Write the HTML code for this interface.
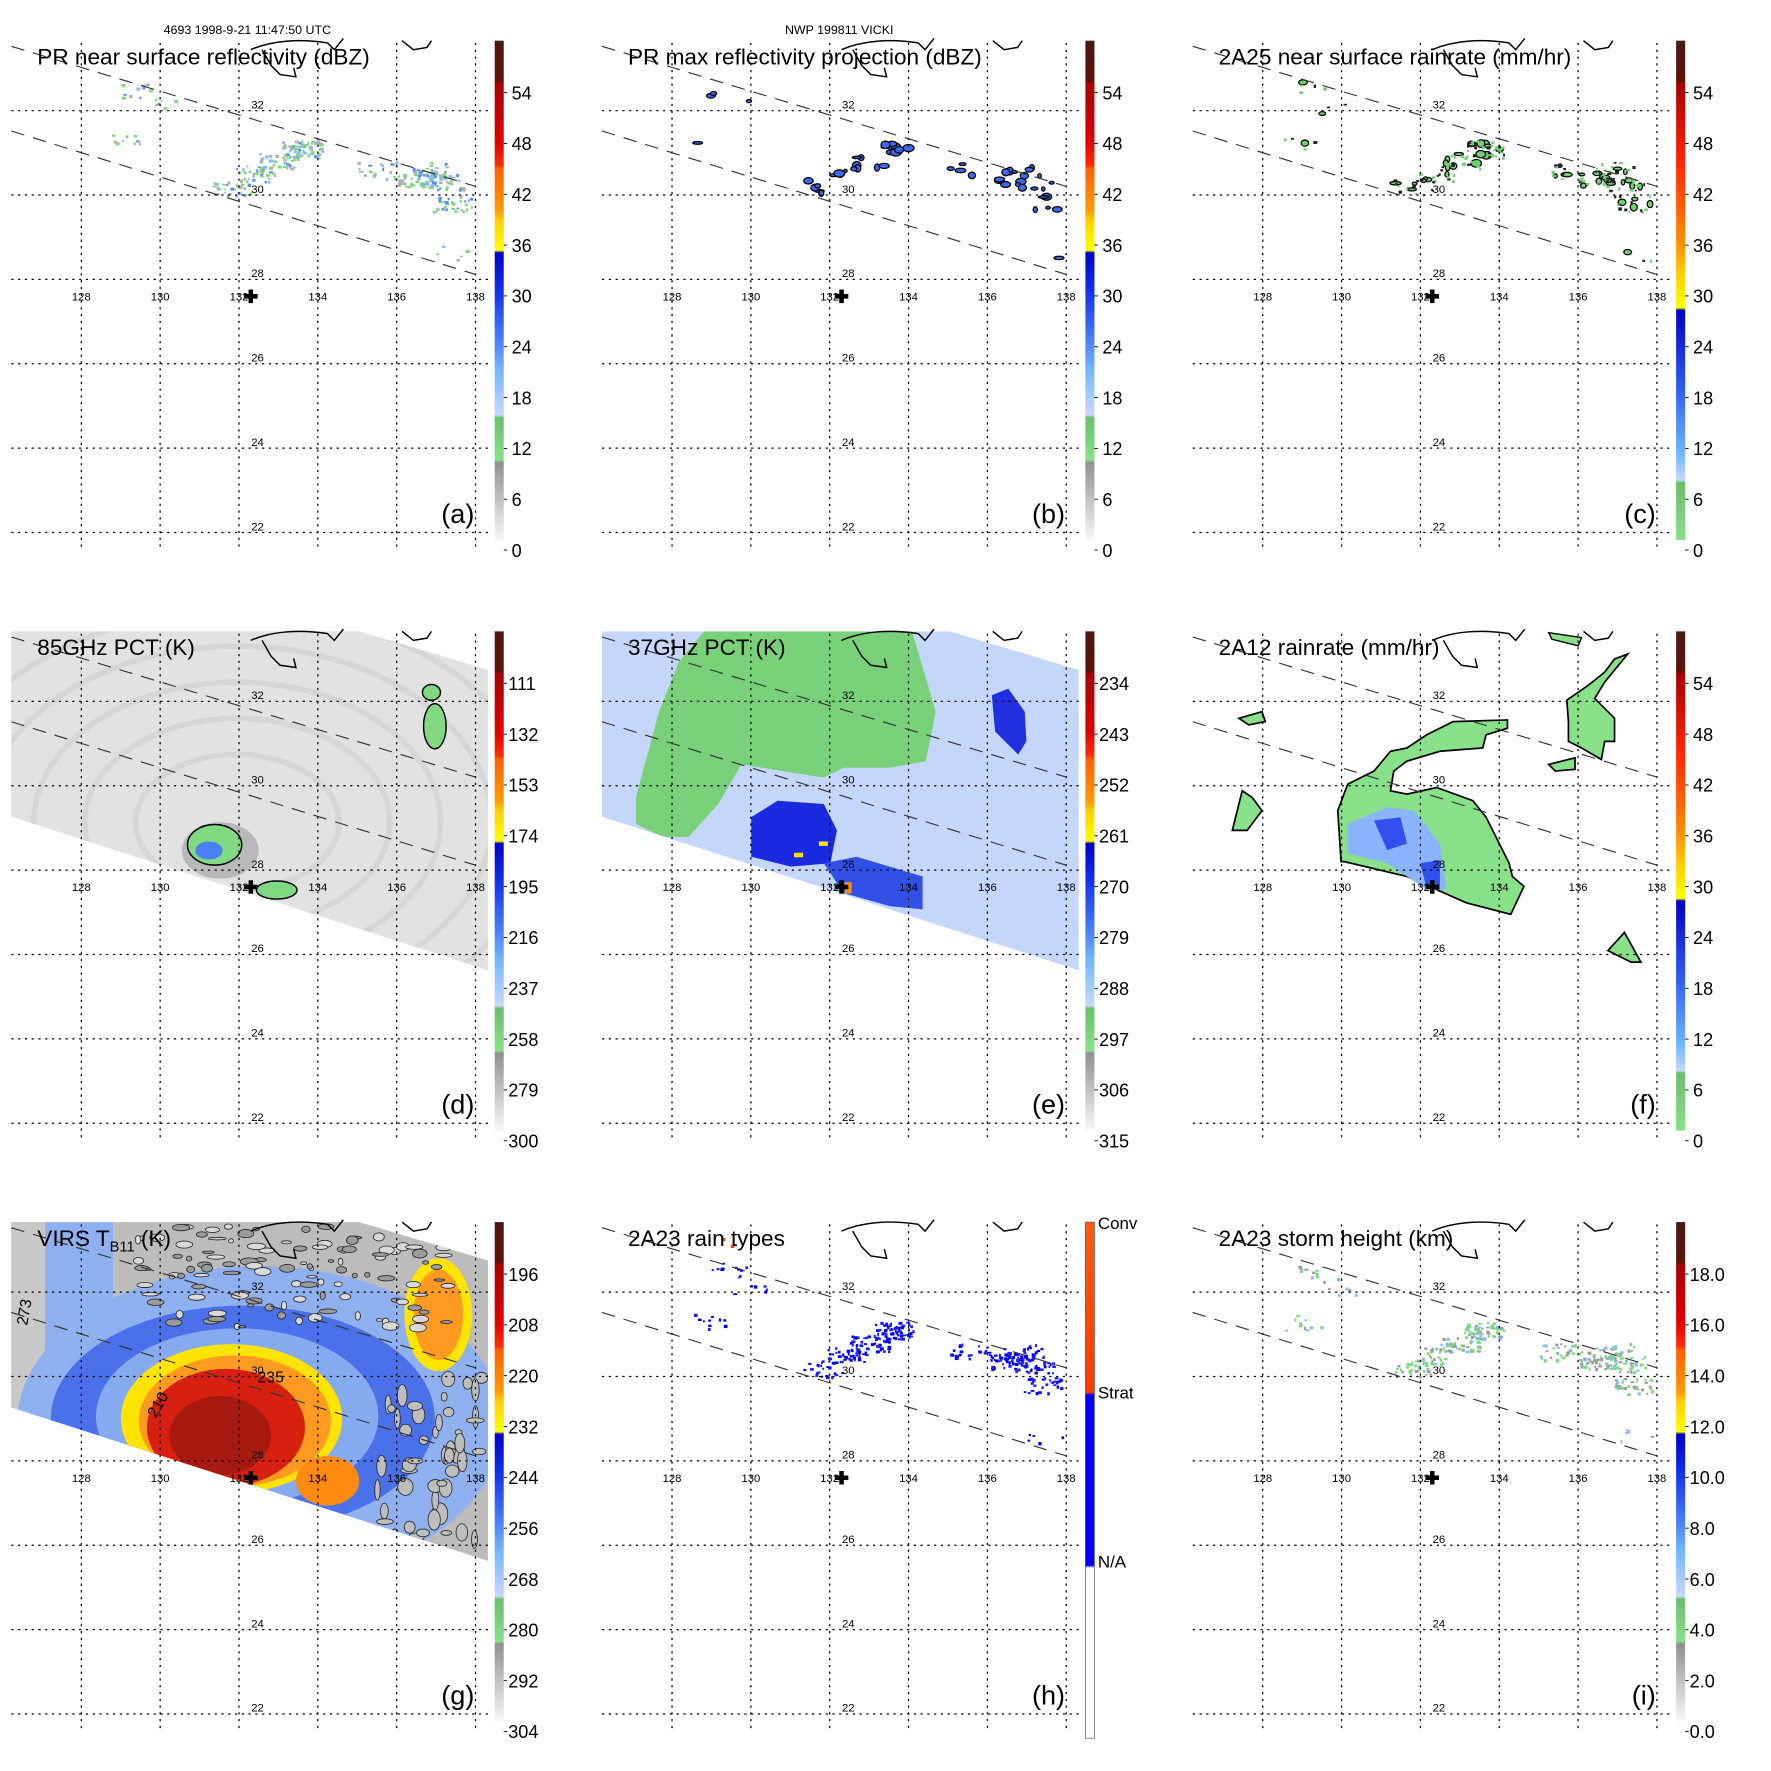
<!DOCTYPE html>
<html><head><meta charset="utf-8">
<style>
html,body{margin:0;padding:0;background:#fff;}
svg{display:block;font-family:"Liberation Sans",sans-serif;}
</style></head>
<body>
<svg id="fig" xmlns="http://www.w3.org/2000/svg" width="1771" height="1771" viewBox="0 0 1568 1568">
<defs>
<linearGradient id="gA" x1="0" y1="0" x2="0" y2="1">
<stop offset="0" stop-color="#4a1812"/><stop offset=".08" stop-color="#5e1208"/><stop offset=".085" stop-color="#a80000"/><stop offset=".2" stop-color="#e00000"/><stop offset=".25" stop-color="#ff3000"/><stop offset=".255" stop-color="#ff6000"/><stop offset=".34" stop-color="#ff9a00"/><stop offset=".36" stop-color="#ffd000"/><stop offset=".42" stop-color="#ffff00"/><stop offset=".425" stop-color="#0000c8"/><stop offset=".5" stop-color="#1030f0"/><stop offset=".6" stop-color="#4a80f8"/><stop offset=".66" stop-color="#70b8ff"/><stop offset=".75" stop-color="#c8d8ff"/><stop offset=".755" stop-color="#6abf69"/><stop offset=".84" stop-color="#88e088"/><stop offset=".845" stop-color="#909090"/><stop offset="1" stop-color="#f8f8f8"/>
</linearGradient>
<linearGradient id="gC" x1="0" y1="0" x2="0" y2="1">
<stop offset="0" stop-color="#4a1812"/><stop offset=".08" stop-color="#5e1208"/><stop offset=".085" stop-color="#a80000"/><stop offset=".25" stop-color="#ff2a00"/><stop offset=".4" stop-color="#ff8a00"/><stop offset=".47" stop-color="#ffd000"/><stop offset=".535" stop-color="#ffff00"/><stop offset=".54" stop-color="#0000c8"/><stop offset=".7" stop-color="#3060f0"/><stop offset=".83" stop-color="#70b8ff"/><stop offset=".88" stop-color="#c8d8ff"/><stop offset=".885" stop-color="#6abf69"/><stop offset="1" stop-color="#88e088"/>
</linearGradient>
<linearGradient id="gH" x1="0" y1="0" x2="0" y2="1">
<stop offset="0" stop-color="#ff5a10"/><stop offset=".33" stop-color="#ff3a00"/><stop offset=".335" stop-color="#0000ff"/><stop offset=".665" stop-color="#0000ff"/><stop offset=".67" stop-color="#ffffff"/><stop offset="1" stop-color="#ffffff"/>
</linearGradient>
</defs>
<text x="219" y="30" font-size="11" text-anchor="middle">4693 1998-9-21 11:47:50 UTC</text>
<text x="743" y="30" font-size="11" text-anchor="middle">NWP 199811 VICKI</text>
</svg>
<script>
const NS="http://www.w3.org/2000/svg";
const svg=document.getElementById('fig');
// ---- data ----
const lonTicks=[128,130,132,134,136,138];
const latTicks=[32,30,28,26,24,22];
const panelTitles=["PR near surface reflectivity (dBZ)","PR max reflectivity projection (dBZ)","2A25 near surface rainrate (mm/hr)","85GHz PCT (K)","37GHz PCT (K)","2A12 rainrate (mm/hr)","VIRS","2A23 rain types","2A23 storm height (km)"];
const panelLetters=["(a)","(b)","(c)","(d)","(e)","(f)","(g)","(h)","(i)"];
const cbLabelsA=["54","48","42","36","30","24","18","12","6","0"];
const cbLabelsC=["54","48","42","36","30","24","18","12","6","0"];
const cbLabelsD=["111","132","153","174","195","216","237","258","279","300"];
const cbLabelsE=["234","243","252","261","270","279","288","297","306","315"];
const cbLabelsG=["196","208","220","232","244","256","268","280","292","304"];
const cbLabelsH=["Conv","Strat","N/A"];
const cbLabelsI=["18.0","16.0","14.0","12.0","10.0","8.0","6.0","4.0","2.0","0.0"];
const stormCenter=[132.3,27.6];
// rain clusters: lon, lat, count
const clusterLon=[133.6,133.0,132.4,131.8,136.5,137.2,135.5,137.4,129.0,129.4,129.9,137.5,136.9];
const clusterLat=[31.1,30.8,30.5,30.2,30.4,30.3,30.6,29.8,31.3,32.5,32.1,28.6,30.6];
const clusterSize=[80,50,40,40,70,40,30,40,12,14,8,6,30];
// ---- helpers ----
const PX=[0,523,1046],PY=[0,523,1046];
function lx(lon){return 72+(lon-128)*34.9;}
function ly(lat){return 98-(lat-32)*37.35;}
let seed=7;function rnd(){seed=(seed*16807)%2147483647;return seed/2147483647;}
function el(tag,at,parent){const e=document.createElementNS(NS,tag);for(const k in at)e.setAttribute(k,at[k]);(parent||svg).appendChild(e);return e;}
function poly(g,pts,fill,stroke,sw){return el('polygon',{points:pts.map(p=>p.join(',')).join(' '),fill:fill,stroke:stroke||'none','stroke-width':sw||1},g);}
function zp(ox,oy,pts,pdx,pdy){return pts.map(p=>[(ox+p[0]/3)/1.1426-pdx,(oy+p[1]/3)/1.1426-pdy]);}
const swath=[[10,36],[318,36],[432,70],[432,336],[10,200]];

function speckles(g,colors,scale){
  for(let c=0;c<clusterLon.length;c++){
    const n=Math.round(clusterSize[c]*scale);
    for(let i=0;i<n;i++){
      const x=lx(clusterLon[c]+(rnd()-.5)*1.0), y=ly(clusterLat[c]+(rnd()-.5)*0.4);
      const r=el('rect',{x:x.toFixed(1),y:y.toFixed(1),width:1.5+rnd()*2,height:1.5+rnd()*1.5,fill:colors[Math.floor(rnd()*colors.length)]},g);
      
      
    }
  }
}
function blobs(g,fill,scale){
  for(let c=0;c<clusterLon.length;c++){
    const n=Math.max(1,Math.round(clusterSize[c]*scale));
    for(let i=0;i<n;i++){
      const x=lx(clusterLon[c]+(rnd()-.5)*0.9), y=ly(clusterLat[c]+(rnd()-.5)*0.35);
      const b=el('ellipse',{cx:x.toFixed(1),cy:y.toFixed(1),rx:1.5+rnd()*3.5,ry:1+rnd()*2.5,fill:fill,stroke:'#000','stroke-width':1.1},g);
      
      
    }
  }
}

function background(i,g){
  if(i===3){
    const s=poly(g,swath,'#e2e2e2');
    const cp=el('g',{'clip-path':'url(#sw)'},g);
    for(let k=0;k<5;k++)el('ellipse',{cx:210,cy:205,rx:90+k*45,ry:60+k*32,fill:'none',stroke:'#d6d6d6','stroke-width':5},cp);
    el('ellipse',{cx:195,cy:230,rx:34,ry:25,fill:'#b8b8b8'},cp);
    el('ellipse',{cx:190,cy:225,rx:24,ry:18,fill:'#80d880',stroke:'#000','stroke-width':1.3},cp);
    el('ellipse',{cx:185,cy:230,rx:12,ry:8,fill:'#4a80f8'},cp);
    el('ellipse',{cx:245,cy:265,rx:18,ry:8,fill:'#80d880',stroke:'#000','stroke-width':1.3},cp);
    el('ellipse',{cx:385,cy:120,rx:10,ry:20,fill:'#80d880',stroke:'#000','stroke-width':1.3},cp);
    el('ellipse',{cx:382,cy:90,rx:8,ry:7,fill:'#80d880',stroke:'#000','stroke-width':1.3},cp);
  }
  if(i===4){
    const s=poly(g,swath,'#c4d6fa');
    const cp=el('g',{'clip-path':'url(#sw)'},g);
    poly(cp,zp(600,620,[[130,560],[200,300],[260,150],[350,40],[700,30],[960,30],[1040,300],[1010,450],[900,470],[760,470],[700,500],[450,460],[380,580],[290,680],[210,680],[130,640]],523,523),'#78d078');
    poly(cp,zp(600,620,[[480,620],[560,570],[700,580],[740,660],[720,760],[600,770],[480,740]],523,523),'#1a2ae0');
    poly(cp,zp(600,620,[[700,760],[800,740],[1000,800],[1000,900],[900,890],[760,850]],523,523),'#3050e8');
    poly(cp,zp(600,620,[[1210,250],[1260,230],[1310,300],[1315,390],[1290,430],[1220,360]],523,523),'#2030e0');
    el('rect',{x:202,y:222,width:8,height:4,fill:'#ffe000'},cp);el('rect',{x:180,y:232,width:8,height:4,fill:'#ffe000'},cp);
    el('rect',{x:225,y:258,width:6,height:10,fill:'#ff8a00'},cp);
  }
  if(i===6){
    const s=poly(g,swath,'#bcbcbc');
    const cp=el('g',{'clip-path':'url(#sw)'},g);
    el('rect',{x:10,y:36,width:90,height:170,fill:'#8fb0ee'},cp);
    el('rect',{x:10,y:36,width:30,height:170,fill:'#c8c8c8'},cp);
    el('ellipse',{cx:230,cy:215,rx:215,ry:140,fill:'#8fb0ee'},cp);
    el('ellipse',{cx:215,cy:210,rx:170,ry:100,fill:'#4a70ea'},cp);
    el('ellipse',{cx:210,cy:208,rx:125,ry:78,fill:'#86aaf0'},cp);
    el('ellipse',{cx:205,cy:210,rx:98,ry:66,fill:'#ffe400'},cp);
    el('ellipse',{cx:208,cy:212,rx:85,ry:58,fill:'#ff9a20'},cp);
    el('ellipse',{cx:200,cy:218,rx:70,ry:52,fill:'#d82010'},cp);
    el('ellipse',{cx:195,cy:225,rx:45,ry:35,fill:'#a81a10'},cp);
    el('ellipse',{cx:290,cy:265,rx:28,ry:22,fill:'#ff8a10'},cp);
    el('ellipse',{cx:388,cy:118,rx:30,ry:50,fill:'#ffe400'},cp);
    el('ellipse',{cx:388,cy:118,rx:22,ry:40,fill:'#ff9a20'},cp);
    for(let k=0;k<120;k++){const x=120+rnd()*280,y=40+rnd()*90;el('ellipse',{cx:x,cy:y,rx:2+rnd()*6,ry:1+rnd()*3,fill:rnd()<.5?'#d8d8d8':'#9a9a9a',stroke:'#222','stroke-width':.7},cp);}
    for(let k=0;k<50;k++){const x=330+rnd()*100,y=170+rnd()*150;el('ellipse',{cx:x,cy:y,rx:2+rnd()*6,ry:2+rnd()*8,fill:'#bdbdbd',stroke:'#222','stroke-width':.7},cp);}
    el('text',{x:138,y:210,'font-size':14,fill:'#000',transform:'rotate(-60 138 210)'},cp).textContent='210';
    el('text',{x:228,y:178,'font-size':14,fill:'#000'},cp).textContent='235';
    el('text',{x:24,y:128,'font-size':14,fill:'#000',transform:'rotate(-80 24 128)'},cp).textContent='273';
  }
  if(i===5){
    const o=[1190,620],d=[1046,523];
    const main=poly(g,zp(o[0],o[1],[[500,755],[490,600],[520,520],[600,480],[650,420],[700,410],[760,370],[840,330],[1005,325],[1005,350],[940,370],[930,410],[800,420],[700,450],[660,480],[650,540],[700,550],[790,530],[900,570],[940,620],[970,680],[1010,760],[1020,800],[1055,830],[1015,915],[880,880],[700,800],[510,755]],d[0],d[1]),'#88e088','#000',1.5);
    
    poly(g,zp(o[0],o[1],[[1185,265],[1250,220],[1300,180],[1330,140],[1370,125],[1300,210],[1270,260],[1330,320],[1330,390],[1300,390],[1290,445],[1230,410],[1190,390],[1190,330]],d[0],d[1]),'#88e088','#000',1.5);
    poly(g,zp(o[0],o[1],[[1130,460],[1210,440],[1210,475],[1150,480]],d[0],d[1]),'#88e088','#000',1.5);
    poly(g,zp(o[0],o[1],[[170,660],[200,540],[230,560],[260,600],[215,660]],d[0],d[1]),'#88e088','#000',1.5);
    poly(g,zp(o[0],o[1],[[1310,1025],[1360,970],[1410,1060],[1380,1060]],d[0],d[1]),'#88e088','#000',1.5);
    poly(g,zp(o[0],o[1],[[190,320],[260,300],[270,330],[220,340]],d[0],d[1]),'#88e088','#000',1.5);
    poly(g,zp(o[0],o[1],[[1130,60],[1230,75],[1220,100],[1140,80]],d[0],d[1]),'#88e088','#000',1.2);
    poly(g,zp(o[0],o[1],[[520,640],[640,590],[720,600],[800,700],[820,840],[760,840],[640,760],[520,730]],d[0],d[1]),'#8ab4ff');
    poly(g,zp(o[0],o[1],[[600,630],[680,620],[700,700],[640,720]],d[0],d[1]),'#3050f0');
    poly(g,zp(o[0],o[1],[[740,760],[800,750],[800,840],[760,835]],d[0],d[1]),'#3050f0');
  }
}

const cpath=el('clipPath',{id:'sw'},svg.querySelector('defs'));poly(cpath,swath,'#000');

for(let i=0;i<9;i++){
  const col=i%3,row=Math.floor(i/3);
  const g=el('g',{transform:`translate(${PX[col]},${PY[row]})`});
  
  
  background(i,g);
  if(i===0)speckles(g,['#7ad67a','#7ad67a','#8ab8ff','#5a8cf8','#b0b0b0'],0.8);
  if(i===1)blobs(g,'#3a6af0',0.12);
  if(i===2){blobs(g,'#70d070',0.1);speckles(g,['#222','#70d070'],0.3);}
  if(i===7){speckles(g,['#0000ff','#0000ff','#2020ff'],0.8);el('rect',{x:116,y:50,width:3,height:3,fill:'#ff4000'},g);el('rect',{x:124,y:56,width:3,height:3,fill:'#ff4000'},g);}
  if(i===8)speckles(g,['#7ad67a','#7ad67a','#9a9a9a','#8ab8ff'],0.8);
  for(let k=0;k<lonTicks.length;k++){
    const x=lx(lonTicks[k]);
    const v=el('line',{x1:x,y1:38,x2:x,y2:486,stroke:'#000','stroke-width':1.1,'stroke-dasharray':'2,4'},g);
    
    const t=el('text',{x:x,y:266,'font-size':10,'text-anchor':'middle'},g);t.textContent=lonTicks[k];
    
  }
  for(let k=0;k<latTicks.length;k++){
    const y=ly(latTicks[k]);
    const h=el('line',{x1:10,y1:y,x2:432,y2:y,stroke:'#000','stroke-width':1.1,'stroke-dasharray':'2,4'},g);
    
    const t=el('text',{x:228,y:y-2,'font-size':10,'text-anchor':'middle'},g);t.textContent=latTicks[k];
    
  }
  el('line',{x1:10,y1:41,x2:421,y2:165,stroke:'#333','stroke-width':1,'stroke-dasharray':'12,8'},g);
  el('line',{x1:10,y1:116,x2:421,y2:243,stroke:'#333','stroke-width':1,'stroke-dasharray':'12,8'},g);
  el('path',{d:'M222 44 C240 36 265 34 290 38 L296 44 L304 34 M232 44 L240 58 L248 66 L262 68 L260 60 M356 36 L366 44 L378 42 L382 36',fill:'none',stroke:'#000','stroke-width':1.3},g);
  const cx=lx(stormCenter[0]),cy=ly(stormCenter[1]);
  const cr=el('path',{d:`M${cx-6} ${cy-2}h4v-4h4v4h4v4h-4v4h-4v-4h-4z`,fill:'#000'},g);
  
  const tt=el('text',{x:33,y:57,'font-size':20},g);
  
  if(i===6){tt.textContent='VIRS T';const s=el('tspan',{'font-size':13,dy:5},tt);s.textContent='B11';const s2=el('tspan',{dy:-5},tt);s2.textContent=' (K)';}
  else tt.textContent=panelTitles[i];
  const lt=el('text',{x:420,y:463,'font-size':24,'text-anchor':'end'},g);lt.textContent=panelLetters[i];
  
  const grad=(i===7)?'gH':(i===2||i===5)?'gC':'gA';
  const cb=el('rect',{x:438,y:36,width:8,height:(i===7?457:442),fill:`url(#${grad})`,stroke:i===7?'#555':'none','stroke-width':.6},g);
  
  const labels=[cbLabelsA,cbLabelsA,cbLabelsC,cbLabelsD,cbLabelsE,cbLabelsC,cbLabelsG,cbLabelsH,cbLabelsI][i];
  if(i===7){
    for(let k=0;k<labels.length;k++){const t=el('text',{x:449,y:42+k*150,'font-size':15},g);t.textContent=labels[k];
      }
  } else {
    for(let k=0;k<labels.length;k++){
      const y=82+k*45;
      el('line',{x1:446,y1:y,x2:449,y2:y,stroke:'#000','stroke-width':.8},g);
      const t=el('text',{x:(labels[k].length>2?450:453),y:y+6,'font-size':16},g);t.textContent=labels[k];
      
    }
  }
}
</script>
</body></html>
